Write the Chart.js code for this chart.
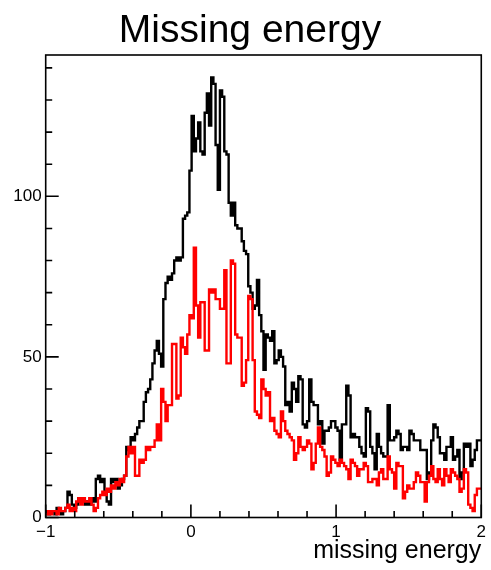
<!DOCTYPE html>
<html>
<head>
<meta charset="utf-8">
<script src="https://cdn.jsdelivr.net/npm/chart.js@4/dist/chart.umd.min.js"></script>
<style>
  html, body { margin: 0; padding: 0; background: #fff; }
  canvas { display: block; }
</style>
</head>
<body>
<canvas id="c" width="491" height="570"></canvas>
<script>
// Histogram range and axis ticks
const xMin = -1, xMax = 2;
const yMax = 144;
const xTickValues = [-1, 0, 1, 2];
const yTickValues = [0, 50, 100];

// Bin contents, 200 equal bins over [xMin, xMax]
const blackCounts = [
  1, 2, 1, 2, 2,   1, 3, 2, 1, 2,   3, 8, 7, 4, 3,   4, 6, 5, 5, 4,
  5, 4, 6, 5, 12,  13, 11, 12, 8, 5, 4, 12, 11, 12, 9, 10, 12, 13, 22, 21,
  25, 24, 26, 28, 30, 30, 36, 39, 40, 43, 48, 52, 55, 51, 47, 68, 73, 75, 74, 76,
  80, 81, 80, 81, 93, 94, 95, 108, 125, 114, 118, 123, 114, 113, 126, 132, 122, 137, 135, 116,
  102, 133, 131, 114, 113, 98, 94, 98, 91, 90, 90, 86, 83, 82, 72, 70, 65, 66, 74, 63,
  58, 46, 57, 56, 55, 58, 48, 49, 52, 50, 47, 35, 36, 33, 42, 40, 36, 44, 43, 29,
  28, 30, 43, 36, 35, 35, 29, 30, 23, 27, 27, 28, 30, 30, 28, 27, 18, 29, 29, 41,
  38, 25, 26, 25, 25, 22, 20, 19, 34, 33, 22, 20, 15, 26, 22, 20, 19, 19, 35, 24,
  24, 25, 27, 26, 21, 22, 22, 21, 27, 26, 24, 24, 24, 21, 21, 21, 12, 14, 24, 29,
  28, 25, 20, 20, 18, 22, 22, 25, 18, 19, 21, 12, 14, 23, 22, 23, 16, 18, 21, 24
];
const redCounts = [
  1, 1, 2, 1, 2,   2, 1, 3, 2, 2,   3, 4, 2, 3, 2,   5, 6, 4, 6, 5,
  5, 6, 4, 2, 3,   6, 7, 8, 7, 9,   8, 10, 9, 11, 10, 12, 11, 13, 19, 22,
  20, 22, 13, 13, 18, 17, 18, 22, 21, 22, 22, 24, 29, 24, 40, 36, 30, 35, 35, 54,
  54, 37, 38, 56, 53, 51, 57, 63, 62, 84, 66, 56, 67, 67, 52, 52, 71, 70, 71, 68,
  68, 65, 65, 77, 48, 48, 80, 79, 57, 56, 56, 41, 42, 49, 69, 68, 49, 33, 32, 31,
  43, 40, 38, 39, 30, 31, 27, 26, 25, 33, 30, 27, 26, 25, 24, 18, 20, 25, 22, 21,
  22, 24, 23, 15, 17, 23, 28, 22, 21, 19, 13, 14, 19, 18, 17, 16, 18, 17, 16, 15,
  12, 18, 17, 16, 13, 15, 15, 17, 16, 11, 11, 12, 12, 10, 14, 15, 12, 12, 19, 15,
  14, 9, 17, 16, 16, 6, 8, 10, 9, 9, 11, 14, 13, 11, 11, 5, 11, 13, 16, 12,
  11, 15, 12, 10, 15, 13, 11, 15, 14, 13, 12, 8, 9, 15, 14, 4, 3, 2, 7, 9
];

const FONT = "'Liberation Sans', Arial, Helvetica, sans-serif";

// Turn bin contents into step-line points at the bin edges
function stepPoints(counts) {
  const w = (xMax - xMin) / counts.length;
  const pts = counts.map((c, i) => ({ x: xMin + i * w, y: c }));
  pts.push({ x: xMax, y: counts[counts.length - 1] });
  return pts;
}

function fmtTick(v) {
  return v < 0 ? '\u2212' + Math.abs(v) : String(v);
}

// Frame box, inward major/minor tick marks and the main title
const frameAndTitle = {
  id: 'frameAndTitle',
  afterDatasetsDraw(chart) {
    const { ctx, chartArea: a, scales: { x, y } } = chart;
    ctx.save();
    ctx.strokeStyle = '#000';
    ctx.lineWidth = 1.6;
    ctx.strokeRect(a.left, a.top, a.right - a.left, a.bottom - a.top);
    ctx.beginPath();
    const nx = Math.round((xMax - xMin) / 0.2);
    for (let k = 0; k <= nx; k++) {
      const v = xMin + k * 0.2;
      const px = x.getPixelForValue(v);
      const len = (k % 5 === 0) ? 13 : 6.5;
      ctx.moveTo(px, a.bottom);
      ctx.lineTo(px, a.bottom - len);
    }
    for (let v = 0; v <= yMax; v += 10) {
      const py = y.getPixelForValue(v);
      const len = (v % 50 === 0) ? 13 : 6.5;
      ctx.moveTo(a.left, py);
      ctx.lineTo(a.left + len, py);
    }
    ctx.stroke();
    ctx.fillStyle = '#000';
    ctx.font = '39px ' + FONT;
    ctx.textAlign = 'center';
    ctx.textBaseline = 'alphabetic';
    ctx.fillText('Missing energy', 250, 42);
    ctx.restore();
  }
};

new Chart(document.getElementById('c'), {
  type: 'line',
  data: {
    datasets: [
      {
        label: 'red',
        data: stepPoints(redCounts),
        borderColor: '#ff0000',
        borderWidth: 2.4,
        stepped: 'after',
        pointRadius: 0,
        fill: false
      },
      {
        label: 'black',
        data: stepPoints(blackCounts),
        borderColor: '#000000',
        borderWidth: 2.4,
        stepped: 'after',
        pointRadius: 0,
        fill: false
      }
    ]
  },
  options: {
    responsive: false,
    devicePixelRatio: 1,
    animation: false,
    layout: { padding: { top: 55, right: 8.3, left: 0, bottom: 0 } },
    plugins: {
      legend: { display: false },
      title: { display: false },
      tooltip: { enabled: false }
    },
    scales: {
      x: {
        type: 'linear',
        min: xMin,
        max: xMax,
        afterBuildTicks: s => { s.ticks = xTickValues.map(v => ({ value: v })); },
        afterFit: s => { s.height = 52.5; },
        grid: { display: false, drawTicks: false, tickLength: 0 },
        border: { display: false },
        ticks: {
          callback: fmtTick,
          color: '#000',
          font: { size: 17, family: FONT },
          padding: 5,
          maxRotation: 0,
          autoSkip: false
        },
        title: {
          display: true,
          text: 'missing energy',
          align: 'end',
          color: '#000',
          font: { size: 25, family: FONT },
          padding: { top: 0, bottom: 4 }
        }
      },
      y: {
        type: 'linear',
        min: 0,
        max: yMax,
        afterBuildTicks: s => { s.ticks = yTickValues.map(v => ({ value: v })); },
        afterFit: s => { s.width = 45.7; },
        grid: { display: false, drawTicks: false, tickLength: 0 },
        border: { display: false },
        ticks: {
          color: '#000',
          font: { size: 17, family: FONT },
          padding: 4
        }
      }
    }
  },
  plugins: [frameAndTitle]
});
</script>
</body>
</html>
